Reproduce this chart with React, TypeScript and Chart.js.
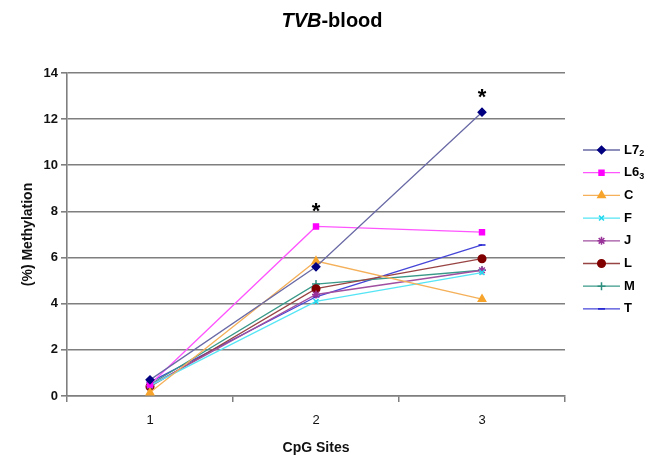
import React, { useEffect, useRef } from 'react';
import { Chart, registerables } from 'chart.js';
import { drawPoint } from 'chart.js/helpers';

Chart.register(...registerables);

const sites = ['1', '2', '3'];
const seriesNames = ['L7₂', 'L6₃', 'C', 'F', 'J', 'L', 'M', 'T'];

const L7_2 = [0.7, 5.6, 12.3];
const L6_3 = [0.5, 7.35, 7.1];
const C = [0.15, 5.85, 4.2];
const F = [0.45, 4.1, 5.35];
const J = [0.45, 4.4, 5.45];
const L = [0.4, 4.65, 5.95];
const M = [0.5, 4.85, 5.45];
const T = [0.6, 4.3, 6.55];
const seriesValues = [L7_2, L6_3, C, F, J, L, M, T];

const markerColors = ['#000080', '#ff00ff', '#f7a42c', '#22d8ee', '#993399', '#800000', '#2f8f7f', '#1a1ad0'];
const lineColors = ['#6a6aa6', '#ff55ff', '#f5b05a', '#55e5f5', '#a050a0', '#994444', '#3a9a8a', '#4646d8'];
const pointStyles = ['rectRot', 'rect', 'triangle', 'crossRot', 'star', 'circle', 'cross', 'line'];
const pointRadii = [3.8, 3.5, 4.2, 3.5, 4, 3.8, 4, 3.5];

const yMin = 0;
const yMax = 14;
const yStep = 2;

const titleItalic = 'TVB';
const titleRest = '-blood';
const yTitle = '(%) Methylation';
const xTitle = 'CpG Sites';

const significantSeries = ['L6₃', 'L7₂'];
const significantSites = ['2', '3'];

const FONT = "'Liberation Sans', Arial, Helvetica, sans-serif";
const GRID = '#7f7f7f';

const subMap: Record<string, string> = { '₀': '0', '₁': '1', '₂': '2', '₃': '3', '₄': '4', '₅': '5', '₆': '6', '₇': '7', '₈': '8', '₉': '9' };

const titlePlugin = {
  id: 'mixedTitle',
  afterDraw(chart: any) {
    const ctx = chart.ctx;
    ctx.save();
    const fi = `italic bold 20px ${FONT}`;
    const fb = `bold 20px ${FONT}`;
    ctx.font = fi;
    const w1 = ctx.measureText(titleItalic).width;
    ctx.font = fb;
    const w2 = ctx.measureText(titleRest).width;
    const x0 = chart.width / 2 + 8 - (w1 + w2) / 2;
    ctx.textBaseline = 'middle';
    ctx.textAlign = 'left';
    ctx.fillStyle = '#000';
    ctx.font = fi;
    ctx.fillText(titleItalic, x0, 21);
    ctx.font = fb;
    ctx.fillText(titleRest, x0 + w1, 21);
    ctx.restore();
  },
};

const starPlugin = {
  id: 'stars',
  afterDatasetsDraw(chart: any) {
    const ctx = chart.ctx;
    const xs = chart.scales.x;
    const ys = chart.scales.y;
    ctx.save();
    ctx.font = `bold 22px ${FONT}`;
    ctx.fillStyle = '#000';
    ctx.textAlign = 'center';
    ctx.textBaseline = 'middle';
    significantSeries.forEach((name, k) => {
      const si = seriesNames.indexOf(name);
      const ci = sites.indexOf(significantSites[k]);
      const v = seriesValues[si][ci];
      const x = xs.getPixelForValue(ci);
      const y = ys.getPixelForValue(v);
      ctx.fillText('*', x, y - 14);
    });
    ctx.restore();
  },
};

const legendPlugin = {
  id: 'sideLegend',
  afterDraw(chart: any) {
    const ctx = chart.ctx;
    const area = chart.chartArea;
    const x1 = area.right + 18;
    const x2 = x1 + 37;
    const mx = (x1 + x2) / 2;
    const tx = x2 + 4;
    const top = 150;
    const gap = 22.7;
    ctx.save();
    seriesNames.forEach((name, i) => {
      const y = top + i * gap;
      ctx.strokeStyle = lineColors[i];
      ctx.lineWidth = 1.3;
      ctx.beginPath();
      ctx.moveTo(x1, y);
      ctx.lineTo(x2, y);
      ctx.stroke();
      ctx.fillStyle = markerColors[i];
      ctx.strokeStyle = markerColors[i];
      ctx.lineWidth = 1.5;
      drawPoint(ctx, { pointStyle: pointStyles[i], radius: pointRadii[i], rotation: 0, borderWidth: 1.5 } as any, mx, y);
      ctx.fillStyle = '#000';
      ctx.textBaseline = 'middle';
      ctx.textAlign = 'left';
      let x = tx;
      for (const ch of Array.from(name)) {
        if (subMap[ch]) {
          ctx.font = `bold 9px ${FONT}`;
          ctx.fillText(subMap[ch], x, y + 4);
          x += ctx.measureText(subMap[ch]).width;
        } else {
          ctx.font = `bold 13px ${FONT}`;
          ctx.fillText(ch, x, y);
          x += ctx.measureText(ch).width;
        }
      }
    });
    ctx.restore();
  },
};

export default function App() {
  const ref = useRef<HTMLCanvasElement | null>(null);
  useEffect(() => {
    if (!ref.current) return;
    const chart = new Chart(ref.current, {
      type: 'line',
      data: {
        labels: sites,
        datasets: seriesNames.map((name, i) => ({
          label: name,
          data: seriesValues[i],
          borderColor: lineColors[i],
          backgroundColor: markerColors[i],
          pointBackgroundColor: markerColors[i],
          pointBorderColor: markerColors[i],
          pointStyle: pointStyles[i] as any,
          pointRadius: pointRadii[i],
          pointBorderWidth: 1.5,
          borderWidth: 1.3,
          tension: 0,
          fill: false,
        })),
      },
      options: {
        responsive: false,
        animation: false,
        layout: { padding: { top: 73, right: 83, left: 0, bottom: 0 } },
        plugins: {
          legend: { display: false },
          title: { display: false },
          tooltip: { enabled: false },
        },
        scales: {
          x: {
            offset: true,
            afterFit: (s: any) => { s.height = 61; },
            grid: { display: true, drawOnChartArea: false, drawTicks: true, tickLength: 6, color: GRID, lineWidth: 1.5, offset: true },
            border: { display: true, color: GRID, width: 1.5 },
            ticks: { color: '#111', font: { family: FONT, size: 13 }, padding: 11 },
            title: { display: true, text: xTitle, color: '#111', font: { family: FONT, size: 14, weight: 'bold' }, padding: { top: 0, bottom: 0 } },
          },
          y: {
            min: yMin,
            max: yMax,
            afterFit: (s: any) => { s.width = 67; },
            grid: { display: true, drawOnChartArea: true, drawTicks: true, tickLength: 6, color: GRID, lineWidth: 1.6 },
            border: { display: true, color: GRID, width: 1.6 },
            ticks: { stepSize: yStep, color: '#111', font: { family: FONT, size: 13, weight: 'bold' }, padding: 3 },
            title: { display: true, text: yTitle, color: '#111', font: { family: FONT, size: 14, weight: 'bold' }, padding: { top: 20, bottom: 0 } },
          },
        },
      },
      plugins: [titlePlugin, starPlugin, legendPlugin],
    });
    return () => chart.destroy();
  }, []);
  return (
    <div style={{ position: 'absolute', left: 0, top: 0, width: 648, height: 457, background: '#fff' }}>
      <canvas ref={ref} width={648} height={457} style={{ display: 'block' }} />
    </div>
  );
}
